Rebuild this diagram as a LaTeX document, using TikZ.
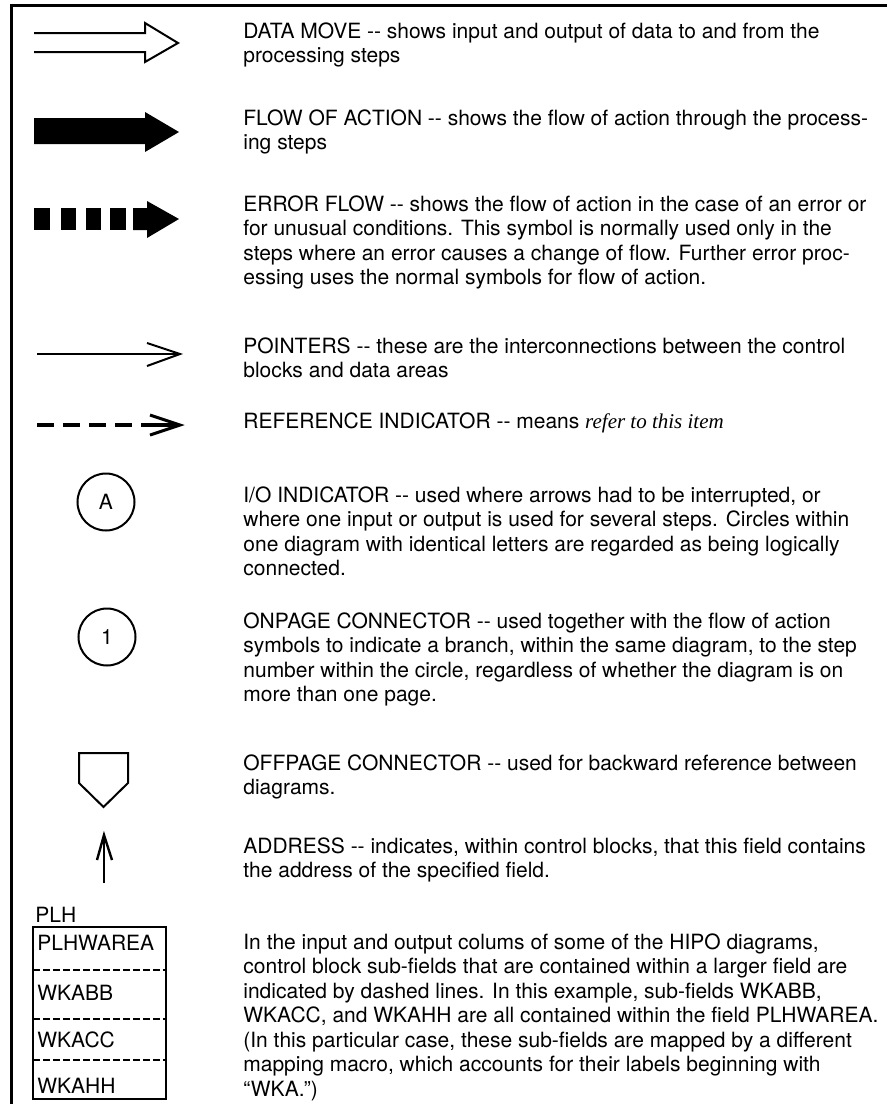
\documentclass[tikz,border=0pt]{standalone}
\usepackage{fontspec}
\setmainfont{TeX Gyre Heros}
\newfontfamily\remarkfont{Liberation Serif}
\newcommand\dd{\mbox{-}\mbox{-}}
\begin{document}
\begin{tikzpicture}[x=0.5pt,y=-0.5pt,
  % multi-line nodes: the base anchor sits on the last line
  desc/.style={anchor=base west, inner sep=0pt, align=left,
    font=\fontsize{10.5}{12.25}\selectfont},
  field/.style={anchor=base west, inner sep=0pt,
    font=\fontsize{10.5}{12.25}\selectfont},
  symline/.style={line width=1pt},
  connector/.style={circle, draw, line width=1pt, minimum size=28.5pt,
    inner sep=0pt, font=\fontsize{10.5}{12.25}\selectfont},
  frame/.style={line width=1.5pt},
  subfield/.style={line width=0.8pt, dash pattern=on 3.5pt off 1.5pt}]
\useasboundingbox (0,0) rectangle (887,1104);

% page frame: top rule and left rule
\draw[frame] (11.5,1104) -- (11.5,5) -- (887,5);

% data move: open double-line arrow
\draw[symline] (34,33) -- (145,33) -- (145,23) -- (178,43) -- (145,62) -- (145,52) -- (34,52);

% flow of action: solid arrow
\fill (34,118) -- (145,118) -- (145,112) -- (179,132) -- (145,152) -- (145,144) -- (34,144) -- cycle;

% error flow: blocks followed by a solid head
\fill (34,208) rectangle (50,230);
\fill (61,208) rectangle (76,230);
\fill (86,208) rectangle (101,230);
\fill (110,208) rectangle (126,230);
\fill (133,208) -- (147,208) -- (147,201) -- (179,219) -- (147,238) -- (147,230) -- (133,230) -- cycle;

% pointer
\draw[symline] (37,354) -- (179,354);
\draw[symline, line join=miter] (147,343) -- (180,354) -- (147,366);

% reference indicator
\draw[line width=1.8pt, dash pattern=on 8.5pt off 4.5pt] (37,425) -- (132,425);
\draw[line width=1.8pt] (141,425) -- (177,425);
\draw[line width=1.5pt] (150,415) -- (180,425) -- (150,435);

% connectors
\node[connector] (ioA) at (106,502) {A};
\node[connector] (on1) at (107,637) {1};

% offpage connector
\draw[symline] (79,753) -- (128,753) -- (128,783) -- (103.5,807) -- (79,783) -- cycle;

% address arrow
\draw[symline] (104,883) -- (104,837);
\draw[line width=1.2pt] (97,860) -- (104,835) -- (112,860);

% control block with sub-fields
\node[field] (plh) at (35,922) {PLH};
\draw[line width=0.8pt] (33,927) rectangle (166,1099);
\draw[subfield] (33,970) -- (166,970);
\draw[subfield] (33,1019) -- (166,1019);
\draw[subfield] (33,1060) -- (166,1060);
\node[field] (fa) at (37,950) {PLHWAREA};
\node[field] (fb) at (37,1000) {WKABB};
\node[field] (fc) at (37,1047) {WKACC};
\node[field] (fh) at (37,1093) {WKAHH};

% descriptions (positioned by the baseline of their last line)
\node[desc] (tdata) at (243,62.5) {DATA MOVE \dd\ shows input and output of data to and from the\\processing steps};
\node[desc] (tflow) at (243,149.5) {FLOW OF ACTION \dd\ shows the flow of action through the process-\\ing steps};
\node[desc] (terr) at (243,284.5) {ERROR FLOW \dd\ shows the flow of action in the case of an error or\\for unusual conditions. This symbol is normally used only in the\\steps where an error causes a change of flow. Further error proc-\\essing uses the normal symbols for flow of action.};
\node[desc] (tptr) at (243,377.5) {POINTERS \dd\ these are the interconnections between the control\\blocks and data areas};
\node[desc] (tref) at (243,428) {REFERENCE INDICATOR \dd\ means {\remarkfont\itshape refer to this item}};
\node[desc] (tio) at (243,575.5) {I/O INDICATOR \dd\ used where arrows had to be interrupted, or\\where one input or output is used for several steps. Circles within\\one diagram with identical letters are regarded as being logically\\connected.};
\node[desc] (ton) at (243,701.5) {ONPAGE CONNECTOR \dd\ used together with the flow of action\\symbols to indicate a branch, within the same diagram, to the step\\number within the circle, regardless of whether the diagram is on\\more than one page.};
\node[desc] (toff) at (243,794.5) {OFFPAGE CONNECTOR \dd\ used for backward reference between\\diagrams.};
\node[desc] (taddr) at (243,877.5) {ADDRESS \dd\ indicates, within control blocks, that this field contains\\the address of the specified field.};
\node[desc] (tsub) at (243,1096) {In the input and output colums of some of the HIPO diagrams,\\control block sub-fields that are contained within a larger field are\\indicated by dashed lines. In this example, sub-fields WKABB,\\WKACC, and WKAHH are all contained within the field PLHWAREA.\\(In this particular case, these sub-fields are mapped by a different\\mapping macro, which accounts for their labels beginning with\\“WKA.”)};
\end{tikzpicture}
\end{document}
